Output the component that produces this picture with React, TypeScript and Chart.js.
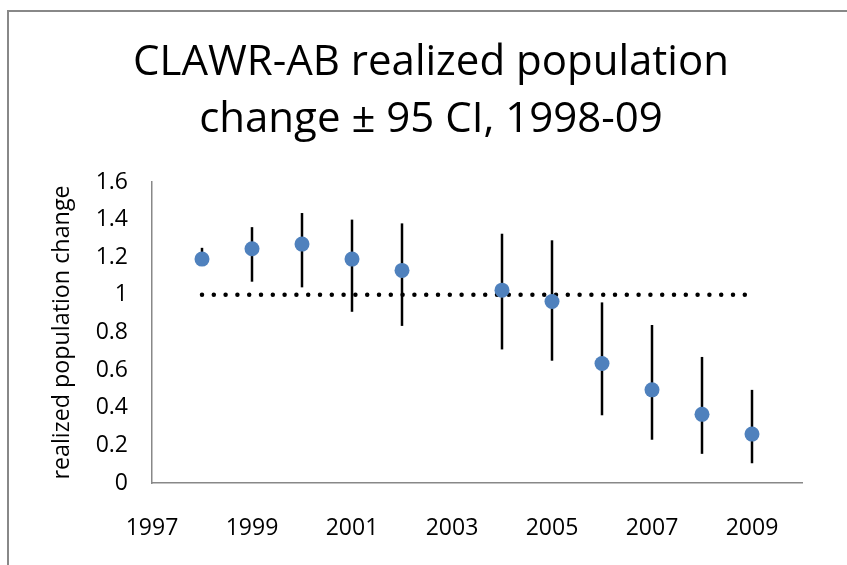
import React, { useEffect, useRef } from "react";
import { Chart, registerables } from "chart.js";

Chart.register(...registerables);

const years = [1998, 1999, 2000, 2001, 2002, 2004, 2005, 2006, 2007, 2008, 2009];
const lambda = [1.19, 1.245, 1.27, 1.19, 1.13, 1.025, 0.965, 0.635, 0.495, 0.365, 0.26];
const lowerCI = [1.155, 1.07, 1.04, 0.91, 0.835, 0.71, 0.65, 0.36, 0.23, 0.155, 0.105];
const upperCI = [1.25, 1.36, 1.435, 1.4, 1.38, 1.325, 1.29, 0.96, 0.84, 0.67, 0.495];
const refYears = [1998, 2009];
const refValue = [1, 1];
const xTicks = [1997, 1999, 2001, 2003, 2005, 2007, 2009];
const titleLines = ["CLAWR-AB realized population", "change \u00B1 95 CI, 1998-09"];
const yAxisTitle = "realized population change";

const FONT = "'Open Sans', 'Noto Sans', sans-serif";

const errorBarPlugin = {
  id: "errorBars",
  beforeDatasetsDraw(chart: any) {
    const { ctx, scales } = chart;
    const xs = scales.x;
    const ys = scales.y;
    ctx.save();
    ctx.strokeStyle = "#000000";
    ctx.lineWidth = 2.5;
    ctx.lineCap = "butt";
    years.forEach((yr, i) => {
      const px = xs.getPixelForValue(yr);
      ctx.beginPath();
      ctx.moveTo(px, ys.getPixelForValue(lowerCI[i]));
      ctx.lineTo(px, ys.getPixelForValue(upperCI[i]));
      ctx.stroke();
    });
    ctx.restore();
  },
};

export default function App() {
  const ref = useRef<HTMLCanvasElement | null>(null);

  useEffect(() => {
    if (!ref.current) return;
    const chart = new Chart(ref.current, {
      type: "scatter",
      data: {
        datasets: [
          {
            type: "scatter",
            data: years.map((x, i) => ({ x, y: lambda[i] })),
            backgroundColor: "#4F81BD",
            borderColor: "#4F81BD",
            borderWidth: 0,
            pointRadius: 7.5,
            pointHoverRadius: 7.5,
          },
          {
            type: "line",
            data: refYears.map((x, i) => ({ x, y: refValue[i] })),
            borderColor: "#000000",
            borderWidth: 4.5,
            borderDash: [0, 11.8],
            borderCapStyle: "round",
            pointRadius: 0,
            fill: false,
          } as any,
        ],
      },
      options: {
        animation: false,
        responsive: false,
        events: [],
        layout: { padding: { left: 15, right: 0, top: 0, bottom: 0 } },
        plugins: {
          legend: { display: false },
          tooltip: { enabled: false },
          title: {
            display: true,
            text: titleLines,
            color: "#000000",
            font: { family: FONT, size: 42, weight: "normal", lineHeight: 1.357 },
            padding: { top: 35, bottom: 33 },
          },
        },
        scales: {
          x: {
            type: "linear",
            min: 1997,
            max: 2010,
            grid: { display: false },
            border: { display: true, color: "#888888", width: 1.5 },
            afterBuildTicks: (scale: any) => {
              scale.ticks = xTicks.map((v) => ({ value: v }));
            },
            afterFit: (scale: any) => {
              scale.height = 82;
            },
            ticks: {
              color: "#000000",
              padding: 24,
              maxRotation: 0,
              autoSkip: false,
              font: { family: FONT, size: 23 },
              callback: (v: any) => String(v),
            },
          },
          y: {
            type: "linear",
            min: 0,
            max: 1.6,
            grid: { display: false },
            border: { display: true, color: "#888888", width: 1.5 },
            afterFit: (scale: any) => {
              scale.width = 137;
            },
            ticks: {
              stepSize: 0.2,
              color: "#000000",
              padding: 16,
              font: { family: FONT, size: 23 },
              callback: (v: any) => String(parseFloat(Number(v).toFixed(1))),
            },
            title: {
              display: true,
              text: yAxisTitle,
              color: "#000000",
              font: { family: FONT, size: 23.3, lineHeight: 1.2 },
              padding: { top: 33, bottom: 0 },
            },
          },
          yRightSpace: {
            type: "linear",
            position: "right",
            display: true,
            grid: { display: false },
            border: { display: false },
            ticks: { display: false },
            afterFit: (scale: any) => {
              scale.width = 45;
            },
          },
        },
      },
      plugins: [errorBarPlugin],
    });
    return () => chart.destroy();
  }, []);

  return (
    <div style={{ position: "absolute", left: 0, top: 0, width: 847, height: 565, overflow: "hidden", background: "#ffffff" }}>
      <canvas ref={ref} width={847} height={565} style={{ position: "absolute", left: 0, top: 0, width: 847, height: 565 }} />
      <div
        style={{
          position: "absolute",
          left: 7,
          top: 10,
          width: 900,
          height: 600,
          borderLeft: "2px solid #888888",
          borderTop: "2px solid #888888",
          pointerEvents: "none",
        }}
      />
    </div>
  );
}
